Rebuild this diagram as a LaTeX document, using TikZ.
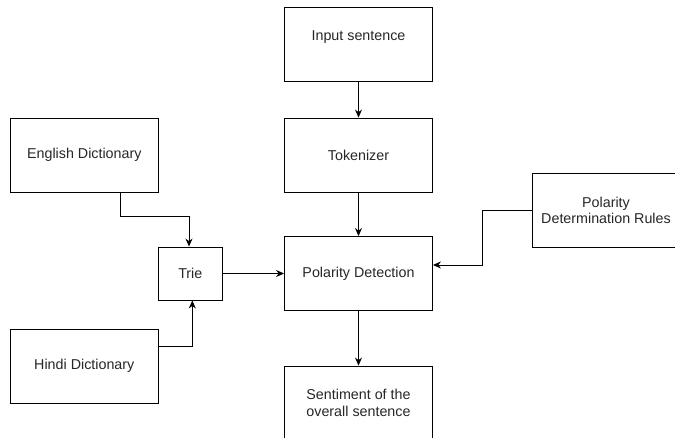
\documentclass[tikz,border=0pt]{standalone}
\usepackage{fontspec}
\setmainfont{Liberation Sans}
\usetikzlibrary{arrows.meta}
\begin{document}
\begin{tikzpicture}[x=1pt,y=-1pt,
  box/.style={draw, line width=0.9pt, rectangle, minimum width=148pt, minimum height=74pt, inner sep=2pt, align=center, text=black!85, font=\fontsize{14.3}{16.7}\selectfont},
  conn/.style={line width=0.9pt, -{Stealth[length=8pt,width=7pt]}}]
\useasboundingbox (0,0) rectangle (675,438);
\node[box] (inp) at (358.5,44) {};
\node[text=black!85, font=\fontsize{14.3}{16.7}\selectfont] (inpt) at (358.5,37) {Input sentence};
\node[box] (tok) at (358.5,155) {Tokenizer};
\node[box] (pd) at (358.5,273.5) {Polarity Detection};
\node[box] (sen) at (358.5,403) {Sentiment of the\\overall sentence};
\node[box] (eng) at (84.3,155) {English Dictionary};
\node[box] (hin) at (84.3,366) {Hindi Dictionary};
\node[box, minimum width=64pt, minimum height=53pt] (trie) at (190.3,273.5) {Trie};
\node[box] (pdr) at (606,210.5) {Polarity\\Determination Rules};
\coordinate (e1) at (120.7,216.7);
\coordinate (h1) at (192.3,346.7);
\coordinate (r1) at (482.7,265);
\draw[conn] (inp) -- (tok);
\draw[conn] (tok) -- (pd);
\draw[conn] (pd) -- (sen);
\draw[conn] (trie) -- (pd.west |- trie);
\draw[conn] (eng.south -| e1) -- (e1) -| (trie.north -| 189,0);
\draw[conn] (hin.east |- h1) -- (h1) -- (trie.south -| h1);
\draw[conn] (pdr.west) -| (r1) -- (pd.east |- r1);
\end{tikzpicture}
\end{document}
